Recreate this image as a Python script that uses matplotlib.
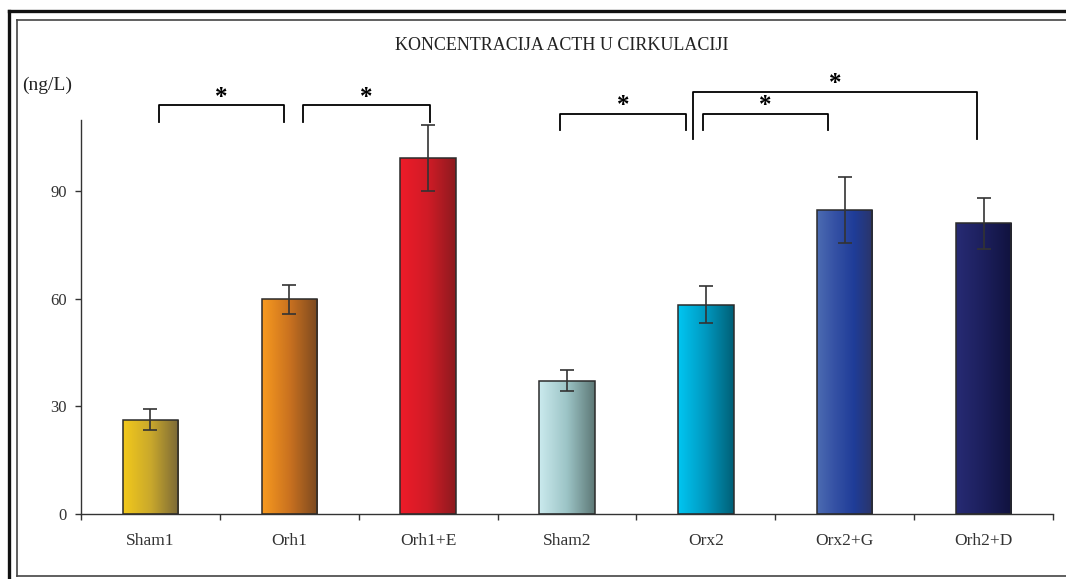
import numpy as np
import matplotlib
matplotlib.use("Agg")
import matplotlib.pyplot as plt
from matplotlib.colors import LinearSegmentedColormap
from matplotlib.patches import Rectangle
from matplotlib.lines import Line2D

plt.rcParams['font.family'] = ['Liberation Serif', 'DejaVu Serif']

# data
groups = ['Sham1', 'Orh1', 'Orh1+E', 'Sham2', 'Orx2', 'Orx2+G', 'Orh2+D']
means = [26.3, 59.8, 99.3, 37.2, 58.3, 84.8, 81.0]
errs = [3.0, 4.0, 9.2, 3.0, 5.2, 9.2, 7.2]
yticks = [0, 30, 60, 90]
title = 'KONCENTRACIJA ACTH U CIRKULACIJI'
unit = '(ng/L)'

# significance brackets: x start, x end, top, left leg end, right leg end
brackets = [
    (0.06, 0.96, 113.9, 109.2, 109.2),
    (1.10, 2.01, 113.9, 109.2, 109.2),
    (2.95, 3.86, 111.5, 106.9, 106.9),
    (3.98, 4.88, 111.5, 106.9, 106.9),
    (3.91, 5.95, 117.7, 104.5, 104.5),
]

# gradient colours (left -> right) per bar
grads = [
    ['#f3c91b', '#c9a82c', '#7a6837'],
    ['#f89a1f', '#c9711f', '#7a4820'],
    ['#ee1b29', '#d01c26', '#8c1a1f'],
    ['#cbeaee', '#9cc4c6', '#5d7876'],
    ['#00c6f2', '#0098bf', '#005f76'],
    ['#4c6cb2', '#3450a4', '#1f3d98', '#2b3468'],
    ['#272b74', '#1c1f5c', '#10123e'],
]

W, H = 1066, 579
fig = plt.figure(figsize=(W / 100, H / 100), dpi=100)
ax = fig.add_axes([81 / W, 1 - 514 / H, 972 / W, 394 / H])

x = np.arange(len(groups))
bw = 0.40

grad = np.linspace(0, 1, 256).reshape(1, -1)
for i in range(len(groups)):
    cmap = LinearSegmentedColormap.from_list('g%d' % i, grads[i])
    x0 = x[i] - bw / 2
    im = ax.imshow(grad, cmap=cmap, aspect='auto', extent=(x0, x0 + bw, 0, means[i]),
                   zorder=2, interpolation='bilinear')
    rect = Rectangle((x0, 0), bw, means[i], facecolor='none', edgecolor='#2b2b2b',
                     linewidth=1.1, zorder=3)
    ax.add_patch(rect)
    im.set_clip_path(rect)

ax.errorbar(x, means, yerr=errs, fmt='none', ecolor='#333333', elinewidth=1.2,
            capsize=4.8, capthick=1.2, zorder=4)
ax.set_aspect('auto')
ax.set_xlim(-0.5, len(groups) - 0.5)
ax.set_ylim(0, 109.8)

for x1, x2, top, l1, l2 in brackets:
    ax.plot([x1, x1, x2, x2], [l1, top, top, l2], color='black', lw=1.3,
            clip_on=False, zorder=5)
    ax.text((x1 + x2) / 2, top + 2.3, '*', ha='center', va='center', fontsize=18,
            fontweight='bold', clip_on=False)

for s in ['top', 'right']:
    ax.spines[s].set_visible(False)
for s in ['left', 'bottom']:
    ax.spines[s].set_color('#333333')
    ax.spines[s].set_linewidth(1.0)

ax.set_yticks(yticks)
ax.set_yticklabels([str(v) for v in yticks], fontsize=12, color='#333333')
ax.tick_params(axis='y', direction='out', length=4, width=1, color='#333333', pad=6)
ax.set_xticks(x)
ax.set_xticklabels(groups, fontsize=12.5, color='#333333')
ax.set_xticks(np.arange(-0.5, len(groups)), minor=True)
ax.tick_params(axis='x', which='major', length=0, pad=14)
ax.tick_params(axis='x', which='minor', direction='out', length=4, width=1, color='#333333')

fig.text(562 / W, 1 - 45 / H, title, ha='center', va='center', fontsize=13, color='#222222')
fig.text(22 / W, 1 - 85 / H, unit, ha='left', va='center', fontsize=14, color='#222222')

# frame
fig.add_artist(Line2D([9 / W, 9 / W], [0, 1 - 11 / H], transform=fig.transFigure,
                      color='#111111', lw=2.4))
fig.add_artist(Line2D([9 / W, 1], [1 - 11 / H, 1 - 11 / H], transform=fig.transFigure,
                      color='#111111', lw=2.4))
fig.add_artist(Line2D([17 / W, 17 / W], [1 - 576 / H, 1 - 20 / H], transform=fig.transFigure,
                      color='#444444', lw=1.2))
fig.add_artist(Line2D([17 / W, 1], [1 - 20 / H, 1 - 20 / H], transform=fig.transFigure,
                      color='#444444', lw=1.2))
fig.add_artist(Line2D([17 / W, 1], [1 - 576 / H, 1 - 576 / H], transform=fig.transFigure,
                      color='#444444', lw=1.2))

fig.savefig('out.png', dpi=100)
